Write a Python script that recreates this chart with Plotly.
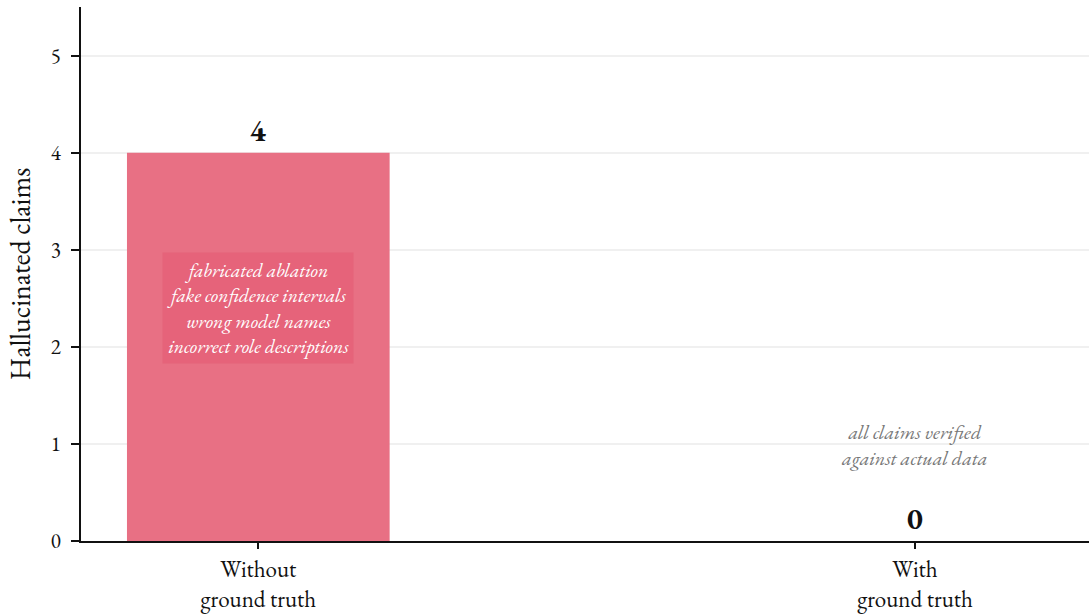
import plotly.graph_objects as go

categories = ["Without<br>ground truth", "With<br>ground truth"]
values = [4, 0]
value_labels = ["<b>4</b>", "<b>0</b>"]
bar_color = "#e87084"
without_notes = ["fabricated ablation", "fake confidence intervals", "wrong model names", "incorrect role descriptions"]
with_notes = ["all claims verified", "against actual data"]
y_ticks = [0, 1, 2, 3, 4, 5]

FONT = "EB Garamond, Garamond, Liberation Serif, serif"

fig = go.Figure()
fig.add_trace(go.Bar(
    x=[0, 1], y=values, width=0.4,
    marker=dict(color=bar_color, line=dict(width=0)),
    text=value_labels, textposition="outside",
    textfont=dict(family=FONT, size=30, color="#111111"),
    cliponaxis=False,
))

fig.add_annotation(
    x=0, y=2.4, xref="x", yref="y",
    text="<br>".join(f"<i>{t}</i>" for t in without_notes),
    showarrow=False, align="center",
    font=dict(family=FONT, size=19.5, color="white"),
    bgcolor="rgba(228,90,115,0.55)", borderpad=4,
)
fig.add_annotation(
    x=1, y=0.99, xref="x", yref="y",
    text="<br>".join(f"<i>{t}</i>" for t in with_notes),
    showarrow=False, align="center",
    font=dict(family=FONT, size=20, color="#777777"),
)

fig.update_layout(
    width=1089, height=615,
    margin=dict(l=81, r=0, t=7, b=74),
    plot_bgcolor="white", paper_bgcolor="white",
    showlegend=False,
    font=dict(family=FONT, color="#111111"),
)
fig.update_xaxes(
    range=[-0.27, 1.265], tickvals=[0, 1], ticktext=categories,
    showline=True, linecolor="#111111", linewidth=2,
    ticks="outside", ticklen=6, tickwidth=2, tickcolor="#111111",
    tickfont=dict(family=FONT, size=23, color="#111111"),
    showgrid=False, zeroline=False, automargin=False,
)
fig.update_yaxes(
    range=[0, 5.5], tickvals=y_ticks,
    showline=True, linecolor="#111111", linewidth=2,
    ticks="outside", ticklen=8, tickwidth=2, tickcolor="#111111",
    tickfont=dict(family=FONT, size=21, color="#111111"),
    ticklabelstandoff=6,
    showgrid=True, gridcolor="#f0f0f0", gridwidth=1.5, zeroline=False,
    title=dict(text="Hallucinated claims", font=dict(family=FONT, size=28, color="#111111"), standoff=12),
    automargin=False,
)

fig.write_html("out.html")
